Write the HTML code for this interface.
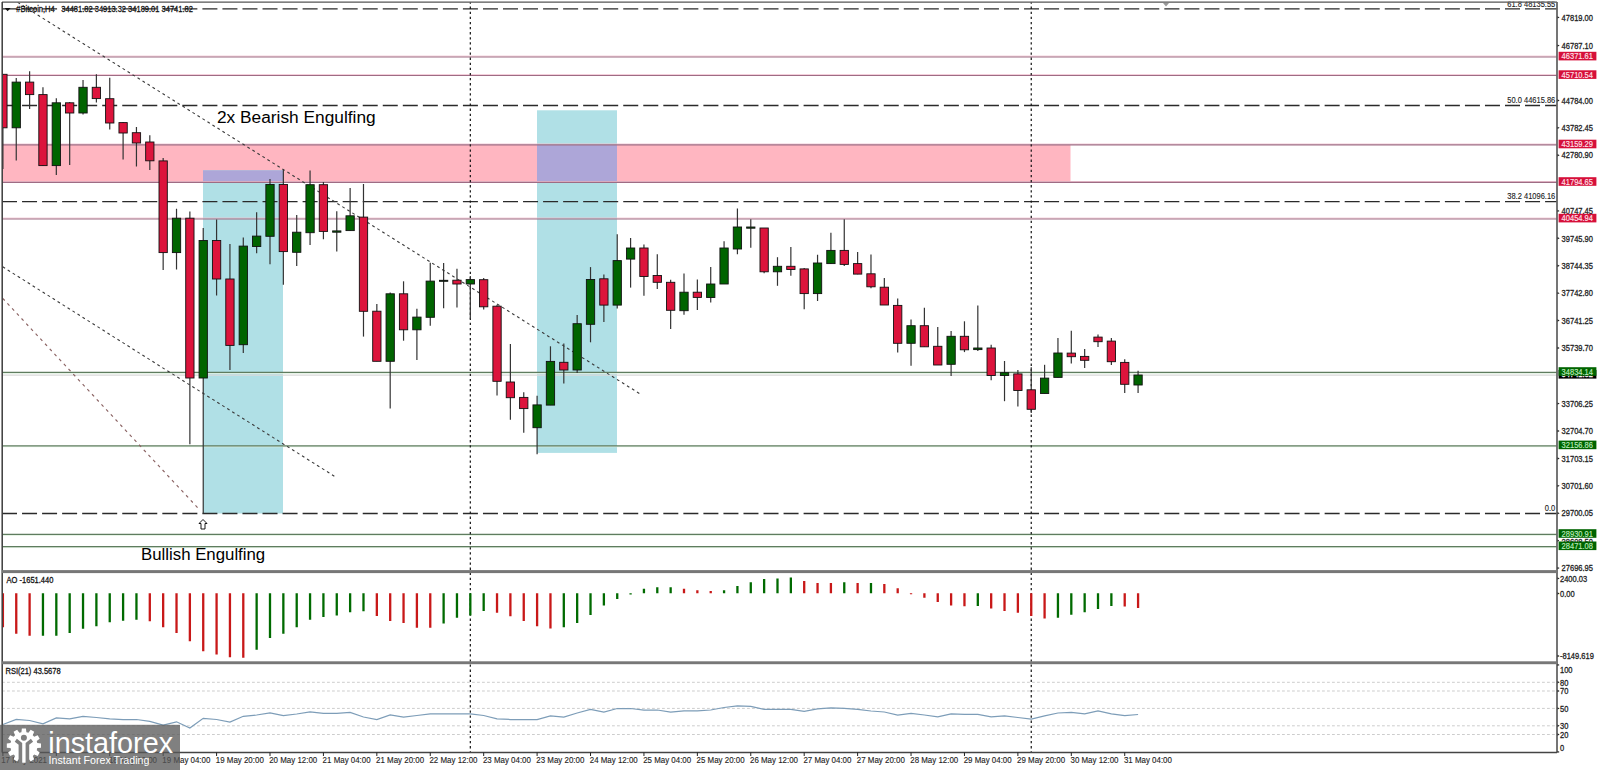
<!DOCTYPE html>
<html><head><meta charset="utf-8"><style>html,body{margin:0;padding:0;background:#fff;width:1599px;height:770px;overflow:hidden;position:relative}</style></head>
<body>
<svg width="1599" height="770" viewBox="0 0 1599 770" style="position:absolute;left:0;top:0;font-family:'Liberation Sans', sans-serif">
<rect x="0" y="0" width="1599" height="770" fill="#fff"/>
<defs><clipPath id="cc"><rect x="2.4" y="2.2" width="1554.6" height="750.3"/></clipPath></defs><g clip-path="url(#cc)">
<rect x="2" y="144.90" width="1068.5" height="37.50" fill="#FFB6C1"/>
<rect x="203" y="170.3" width="80" height="343.2" fill="#B0E0E6"/>
<rect x="203" y="170.30" width="80" height="12.10" fill="#ADA6D8"/>
<rect x="537" y="110.3" width="80" height="342.59999999999997" fill="#B0E0E6"/>
<rect x="537" y="144.90" width="80" height="37.50" fill="#ADA6D8"/>
<line x1="2" y1="56.10" x2="1557" y2="56.10" stroke="#F2C4D2" stroke-width="0.9"/>
<line x1="2" y1="57.00" x2="1557" y2="57.00" stroke="#9E6C84" stroke-width="1.2"/>
<line x1="2" y1="74.60" x2="1557" y2="74.60" stroke="#F2C4D2" stroke-width="0.9"/>
<line x1="2" y1="75.50" x2="1557" y2="75.50" stroke="#9E6C84" stroke-width="1.2"/>
<line x1="2" y1="144.00" x2="1557" y2="144.00" stroke="#F2C4D2" stroke-width="0.9"/>
<line x1="2" y1="144.90" x2="1557" y2="144.90" stroke="#9E6C84" stroke-width="1.2"/>
<line x1="2" y1="181.50" x2="1557" y2="181.50" stroke="#F2C4D2" stroke-width="0.9"/>
<line x1="2" y1="182.40" x2="1557" y2="182.40" stroke="#9E6C84" stroke-width="1.2"/>
<line x1="2" y1="218.10" x2="1557" y2="218.10" stroke="#F2C4D2" stroke-width="0.9"/>
<line x1="2" y1="219.00" x2="1557" y2="219.00" stroke="#9E6C84" stroke-width="1.2"/>
<line x1="2" y1="373.30" x2="1557" y2="373.30" stroke="#E2F2E2" stroke-width="1"/>
<line x1="2" y1="372.40" x2="1557" y2="372.40" stroke="#5F7C5F" stroke-width="1.25"/>
<line x1="2" y1="446.70" x2="1557" y2="446.70" stroke="#E2F2E2" stroke-width="1"/>
<line x1="2" y1="445.80" x2="1557" y2="445.80" stroke="#5F7C5F" stroke-width="1.25"/>
<line x1="2" y1="535.30" x2="1557" y2="535.30" stroke="#E2F2E2" stroke-width="1"/>
<line x1="2" y1="534.40" x2="1557" y2="534.40" stroke="#5F7C5F" stroke-width="1.25"/>
<line x1="2" y1="547.60" x2="1557" y2="547.60" stroke="#E2F2E2" stroke-width="1"/>
<line x1="2" y1="546.70" x2="1557" y2="546.70" stroke="#5F7C5F" stroke-width="1.25"/>
<line x1="2" y1="375.20" x2="1557" y2="375.20" stroke="#DADADA" stroke-width="1.3"/>
<line x1="2" y1="8.90" x2="1557" y2="8.90" stroke="#2a2a2a" stroke-width="1.3" stroke-dasharray="15 5.04"/>
<line x1="2" y1="105.50" x2="1557" y2="105.50" stroke="#2a2a2a" stroke-width="1.3" stroke-dasharray="15 5.04"/>
<line x1="2" y1="201.60" x2="1557" y2="201.60" stroke="#2a2a2a" stroke-width="1.3" stroke-dasharray="15 5.04"/>
<line x1="2" y1="513.50" x2="1557" y2="513.50" stroke="#2a2a2a" stroke-width="1.3" stroke-dasharray="15 5.04"/>
<line x1="470.32" y1="2" x2="470.32" y2="752.5" stroke="#111" stroke-width="1.2" stroke-dasharray="2.3 2.8" stroke-dashoffset="0.5"/>
<line x1="1031.24" y1="2" x2="1031.24" y2="752.5" stroke="#111" stroke-width="1.2" stroke-dasharray="2.3 2.8" stroke-dashoffset="0.5"/>
<line x1="17.7" y1="2.4" x2="640.8" y2="394.4" stroke="#3a3a3a" stroke-width="1.1" stroke-dasharray="2.8 3.1"/>
<line x1="2.7" y1="266.8" x2="335.3" y2="476.8" stroke="#3a3a3a" stroke-width="1.1" stroke-dasharray="2.8 3.1"/>
<line x1="2.7" y1="298.3" x2="200.1" y2="510.3" stroke="#8A6262" stroke-width="1.15" stroke-dasharray="3 3.9"/>
<line x1="2.90" y1="74.30" x2="2.90" y2="169.00" stroke="#333" stroke-width="1.2"/>
<rect x="-1.25" y="74.30" width="8.3" height="53.50" fill="#DC143C" stroke="#111" stroke-width="0.9"/>
<line x1="16.25" y1="77.90" x2="16.25" y2="160.50" stroke="#333" stroke-width="1.2"/>
<rect x="12.10" y="82.10" width="8.3" height="45.70" fill="#006400" stroke="#111" stroke-width="0.9"/>
<line x1="29.61" y1="71.20" x2="29.61" y2="109.00" stroke="#333" stroke-width="1.2"/>
<rect x="25.46" y="82.10" width="8.3" height="12.50" fill="#DC143C" stroke="#111" stroke-width="0.9"/>
<line x1="42.96" y1="87.30" x2="42.96" y2="166.00" stroke="#333" stroke-width="1.2"/>
<rect x="38.81" y="94.60" width="8.3" height="71.00" fill="#DC143C" stroke="#111" stroke-width="0.9"/>
<line x1="56.32" y1="98.20" x2="56.32" y2="175.00" stroke="#333" stroke-width="1.2"/>
<rect x="52.17" y="102.80" width="8.3" height="62.80" fill="#006400" stroke="#111" stroke-width="0.9"/>
<line x1="69.68" y1="102.00" x2="69.68" y2="165.10" stroke="#333" stroke-width="1.2"/>
<rect x="65.53" y="102.80" width="8.3" height="10.20" fill="#DC143C" stroke="#111" stroke-width="0.9"/>
<line x1="83.03" y1="80.00" x2="83.03" y2="114.50" stroke="#333" stroke-width="1.2"/>
<rect x="78.88" y="87.30" width="8.3" height="25.70" fill="#006400" stroke="#111" stroke-width="0.9"/>
<line x1="96.39" y1="74.30" x2="96.39" y2="102.40" stroke="#333" stroke-width="1.2"/>
<rect x="92.23" y="87.30" width="8.3" height="11.30" fill="#DC143C" stroke="#111" stroke-width="0.9"/>
<line x1="109.74" y1="77.70" x2="109.74" y2="129.60" stroke="#333" stroke-width="1.2"/>
<rect x="105.59" y="98.70" width="8.3" height="24.30" fill="#DC143C" stroke="#111" stroke-width="0.9"/>
<line x1="123.10" y1="122.00" x2="123.10" y2="159.50" stroke="#333" stroke-width="1.2"/>
<rect x="118.95" y="122.60" width="8.3" height="10.40" fill="#DC143C" stroke="#111" stroke-width="0.9"/>
<line x1="136.45" y1="127.00" x2="136.45" y2="166.50" stroke="#333" stroke-width="1.2"/>
<rect x="132.30" y="132.70" width="8.3" height="10.30" fill="#DC143C" stroke="#111" stroke-width="0.9"/>
<line x1="149.81" y1="135.30" x2="149.81" y2="170.00" stroke="#333" stroke-width="1.2"/>
<rect x="145.66" y="142.00" width="8.3" height="18.80" fill="#DC143C" stroke="#111" stroke-width="0.9"/>
<line x1="163.16" y1="158.00" x2="163.16" y2="270.10" stroke="#333" stroke-width="1.2"/>
<rect x="159.01" y="160.90" width="8.3" height="91.70" fill="#DC143C" stroke="#111" stroke-width="0.9"/>
<line x1="176.52" y1="208.80" x2="176.52" y2="269.50" stroke="#333" stroke-width="1.2"/>
<rect x="172.37" y="218.20" width="8.3" height="34.40" fill="#006400" stroke="#111" stroke-width="0.9"/>
<line x1="189.87" y1="211.40" x2="189.87" y2="444.20" stroke="#333" stroke-width="1.2"/>
<rect x="185.72" y="218.20" width="8.3" height="159.80" fill="#DC143C" stroke="#111" stroke-width="0.9"/>
<line x1="203.23" y1="227.90" x2="203.23" y2="513.50" stroke="#333" stroke-width="1.2"/>
<rect x="199.08" y="240.50" width="8.3" height="137.50" fill="#006400" stroke="#111" stroke-width="0.9"/>
<line x1="216.58" y1="219.50" x2="216.58" y2="295.50" stroke="#333" stroke-width="1.2"/>
<rect x="212.43" y="240.50" width="8.3" height="38.50" fill="#DC143C" stroke="#111" stroke-width="0.9"/>
<line x1="229.94" y1="243.90" x2="229.94" y2="370.00" stroke="#333" stroke-width="1.2"/>
<rect x="225.78" y="279.00" width="8.3" height="66.40" fill="#DC143C" stroke="#111" stroke-width="0.9"/>
<line x1="243.29" y1="237.40" x2="243.29" y2="353.00" stroke="#333" stroke-width="1.2"/>
<rect x="239.14" y="246.10" width="8.3" height="98.60" fill="#006400" stroke="#111" stroke-width="0.9"/>
<line x1="256.64" y1="212.30" x2="256.64" y2="253.20" stroke="#333" stroke-width="1.2"/>
<rect x="252.49" y="236.10" width="8.3" height="10.40" fill="#006400" stroke="#111" stroke-width="0.9"/>
<line x1="270.00" y1="179.00" x2="270.00" y2="264.30" stroke="#333" stroke-width="1.2"/>
<rect x="265.85" y="184.50" width="8.3" height="51.80" fill="#006400" stroke="#111" stroke-width="0.9"/>
<line x1="283.35" y1="169.50" x2="283.35" y2="284.70" stroke="#333" stroke-width="1.2"/>
<rect x="279.20" y="184.50" width="8.3" height="67.10" fill="#DC143C" stroke="#111" stroke-width="0.9"/>
<line x1="296.71" y1="215.00" x2="296.71" y2="266.00" stroke="#333" stroke-width="1.2"/>
<rect x="292.56" y="232.20" width="8.3" height="20.10" fill="#006400" stroke="#111" stroke-width="0.9"/>
<line x1="310.06" y1="170.40" x2="310.06" y2="245.00" stroke="#333" stroke-width="1.2"/>
<rect x="305.92" y="184.70" width="8.3" height="48.00" fill="#006400" stroke="#111" stroke-width="0.9"/>
<line x1="323.42" y1="182.00" x2="323.42" y2="239.20" stroke="#333" stroke-width="1.2"/>
<rect x="319.27" y="184.70" width="8.3" height="46.70" fill="#DC143C" stroke="#111" stroke-width="0.9"/>
<line x1="336.77" y1="211.20" x2="336.77" y2="251.40" stroke="#333" stroke-width="1.2"/>
<rect x="332.62" y="230.90" width="8.3" height="1.30" fill="#006400" stroke="#111" stroke-width="0.9"/>
<line x1="350.13" y1="188.00" x2="350.13" y2="230.60" stroke="#333" stroke-width="1.2"/>
<rect x="345.98" y="215.80" width="8.3" height="14.80" fill="#006400" stroke="#111" stroke-width="0.9"/>
<line x1="363.49" y1="184.00" x2="363.49" y2="336.60" stroke="#333" stroke-width="1.2"/>
<rect x="359.34" y="217.10" width="8.3" height="94.20" fill="#DC143C" stroke="#111" stroke-width="0.9"/>
<line x1="376.84" y1="304.00" x2="376.84" y2="361.30" stroke="#333" stroke-width="1.2"/>
<rect x="372.69" y="311.20" width="8.3" height="50.10" fill="#DC143C" stroke="#111" stroke-width="0.9"/>
<line x1="390.19" y1="292.50" x2="390.19" y2="408.60" stroke="#333" stroke-width="1.2"/>
<rect x="386.05" y="293.80" width="8.3" height="67.50" fill="#006400" stroke="#111" stroke-width="0.9"/>
<line x1="403.55" y1="281.30" x2="403.55" y2="340.70" stroke="#333" stroke-width="1.2"/>
<rect x="399.40" y="293.80" width="8.3" height="36.00" fill="#DC143C" stroke="#111" stroke-width="0.9"/>
<line x1="416.90" y1="308.70" x2="416.90" y2="360.00" stroke="#333" stroke-width="1.2"/>
<rect x="412.75" y="317.10" width="8.3" height="12.70" fill="#006400" stroke="#111" stroke-width="0.9"/>
<line x1="430.26" y1="262.80" x2="430.26" y2="325.80" stroke="#333" stroke-width="1.2"/>
<rect x="426.11" y="281.10" width="8.3" height="36.20" fill="#006400" stroke="#111" stroke-width="0.9"/>
<line x1="443.62" y1="263.00" x2="443.62" y2="308.30" stroke="#333" stroke-width="1.2"/>
<rect x="439.47" y="280.30" width="8.3" height="1.00" fill="#006400" stroke="#111" stroke-width="0.9"/>
<line x1="456.97" y1="268.80" x2="456.97" y2="307.60" stroke="#333" stroke-width="1.2"/>
<rect x="452.82" y="280.20" width="8.3" height="3.80" fill="#DC143C" stroke="#111" stroke-width="0.9"/>
<line x1="470.32" y1="276.00" x2="470.32" y2="318.70" stroke="#333" stroke-width="1.2"/>
<rect x="466.18" y="279.60" width="8.3" height="4.40" fill="#006400" stroke="#111" stroke-width="0.9"/>
<line x1="483.68" y1="278.00" x2="483.68" y2="309.40" stroke="#333" stroke-width="1.2"/>
<rect x="479.53" y="279.70" width="8.3" height="27.10" fill="#DC143C" stroke="#111" stroke-width="0.9"/>
<line x1="497.03" y1="304.70" x2="497.03" y2="395.60" stroke="#333" stroke-width="1.2"/>
<rect x="492.88" y="306.20" width="8.3" height="75.10" fill="#DC143C" stroke="#111" stroke-width="0.9"/>
<line x1="510.39" y1="344.00" x2="510.39" y2="419.80" stroke="#333" stroke-width="1.2"/>
<rect x="506.24" y="382.00" width="8.3" height="15.70" fill="#DC143C" stroke="#111" stroke-width="0.9"/>
<line x1="523.75" y1="392.20" x2="523.75" y2="432.80" stroke="#333" stroke-width="1.2"/>
<rect x="519.60" y="397.40" width="8.3" height="11.20" fill="#DC143C" stroke="#111" stroke-width="0.9"/>
<line x1="537.10" y1="395.70" x2="537.10" y2="454.30" stroke="#333" stroke-width="1.2"/>
<rect x="532.95" y="404.90" width="8.3" height="22.80" fill="#006400" stroke="#111" stroke-width="0.9"/>
<line x1="550.46" y1="346.30" x2="550.46" y2="405.10" stroke="#333" stroke-width="1.2"/>
<rect x="546.31" y="361.40" width="8.3" height="43.70" fill="#006400" stroke="#111" stroke-width="0.9"/>
<line x1="563.81" y1="343.40" x2="563.81" y2="383.40" stroke="#333" stroke-width="1.2"/>
<rect x="559.66" y="362.30" width="8.3" height="7.70" fill="#DC143C" stroke="#111" stroke-width="0.9"/>
<line x1="577.16" y1="315.10" x2="577.16" y2="372.90" stroke="#333" stroke-width="1.2"/>
<rect x="573.01" y="323.70" width="8.3" height="46.30" fill="#006400" stroke="#111" stroke-width="0.9"/>
<line x1="590.52" y1="267.10" x2="590.52" y2="342.30" stroke="#333" stroke-width="1.2"/>
<rect x="586.37" y="279.50" width="8.3" height="44.80" fill="#006400" stroke="#111" stroke-width="0.9"/>
<line x1="603.88" y1="274.50" x2="603.88" y2="322.00" stroke="#333" stroke-width="1.2"/>
<rect x="599.73" y="278.80" width="8.3" height="26.30" fill="#DC143C" stroke="#111" stroke-width="0.9"/>
<line x1="617.23" y1="234.20" x2="617.23" y2="308.60" stroke="#333" stroke-width="1.2"/>
<rect x="613.08" y="260.60" width="8.3" height="44.50" fill="#006400" stroke="#111" stroke-width="0.9"/>
<line x1="630.59" y1="238.00" x2="630.59" y2="287.60" stroke="#333" stroke-width="1.2"/>
<rect x="626.44" y="248.00" width="8.3" height="11.10" fill="#006400" stroke="#111" stroke-width="0.9"/>
<line x1="643.94" y1="244.40" x2="643.94" y2="295.70" stroke="#333" stroke-width="1.2"/>
<rect x="639.79" y="248.00" width="8.3" height="28.50" fill="#DC143C" stroke="#111" stroke-width="0.9"/>
<line x1="657.29" y1="254.20" x2="657.29" y2="289.10" stroke="#333" stroke-width="1.2"/>
<rect x="653.14" y="275.50" width="8.3" height="6.80" fill="#DC143C" stroke="#111" stroke-width="0.9"/>
<line x1="670.65" y1="279.80" x2="670.65" y2="329.10" stroke="#333" stroke-width="1.2"/>
<rect x="666.50" y="282.30" width="8.3" height="28.00" fill="#DC143C" stroke="#111" stroke-width="0.9"/>
<line x1="684.00" y1="273.60" x2="684.00" y2="314.70" stroke="#333" stroke-width="1.2"/>
<rect x="679.86" y="292.20" width="8.3" height="18.50" fill="#006400" stroke="#111" stroke-width="0.9"/>
<line x1="697.36" y1="279.50" x2="697.36" y2="309.90" stroke="#333" stroke-width="1.2"/>
<rect x="693.21" y="292.20" width="8.3" height="5.20" fill="#DC143C" stroke="#111" stroke-width="0.9"/>
<line x1="710.72" y1="266.90" x2="710.72" y2="302.60" stroke="#333" stroke-width="1.2"/>
<rect x="706.57" y="284.00" width="8.3" height="13.50" fill="#006400" stroke="#111" stroke-width="0.9"/>
<line x1="724.07" y1="241.20" x2="724.07" y2="284.00" stroke="#333" stroke-width="1.2"/>
<rect x="719.92" y="248.00" width="8.3" height="36.00" fill="#006400" stroke="#111" stroke-width="0.9"/>
<line x1="737.42" y1="208.50" x2="737.42" y2="254.30" stroke="#333" stroke-width="1.2"/>
<rect x="733.27" y="227.00" width="8.3" height="22.00" fill="#006400" stroke="#111" stroke-width="0.9"/>
<line x1="750.78" y1="219.20" x2="750.78" y2="247.80" stroke="#333" stroke-width="1.2"/>
<rect x="746.63" y="227.00" width="8.3" height="1.20" fill="#006400" stroke="#111" stroke-width="0.9"/>
<line x1="764.13" y1="228.00" x2="764.13" y2="273.30" stroke="#333" stroke-width="1.2"/>
<rect x="759.99" y="228.00" width="8.3" height="43.80" fill="#DC143C" stroke="#111" stroke-width="0.9"/>
<line x1="777.49" y1="257.20" x2="777.49" y2="285.80" stroke="#333" stroke-width="1.2"/>
<rect x="773.34" y="266.30" width="8.3" height="5.50" fill="#006400" stroke="#111" stroke-width="0.9"/>
<line x1="790.85" y1="247.00" x2="790.85" y2="275.70" stroke="#333" stroke-width="1.2"/>
<rect x="786.70" y="266.30" width="8.3" height="3.20" fill="#DC143C" stroke="#111" stroke-width="0.9"/>
<line x1="804.20" y1="268.00" x2="804.20" y2="309.20" stroke="#333" stroke-width="1.2"/>
<rect x="800.05" y="268.90" width="8.3" height="24.70" fill="#DC143C" stroke="#111" stroke-width="0.9"/>
<line x1="817.55" y1="254.70" x2="817.55" y2="301.00" stroke="#333" stroke-width="1.2"/>
<rect x="813.40" y="263.00" width="8.3" height="30.60" fill="#006400" stroke="#111" stroke-width="0.9"/>
<line x1="830.91" y1="232.80" x2="830.91" y2="264.00" stroke="#333" stroke-width="1.2"/>
<rect x="826.76" y="250.40" width="8.3" height="13.20" fill="#006400" stroke="#111" stroke-width="0.9"/>
<line x1="844.26" y1="219.20" x2="844.26" y2="266.00" stroke="#333" stroke-width="1.2"/>
<rect x="840.12" y="250.40" width="8.3" height="14.00" fill="#DC143C" stroke="#111" stroke-width="0.9"/>
<line x1="857.62" y1="252.00" x2="857.62" y2="274.30" stroke="#333" stroke-width="1.2"/>
<rect x="853.47" y="263.60" width="8.3" height="10.50" fill="#DC143C" stroke="#111" stroke-width="0.9"/>
<line x1="870.98" y1="254.40" x2="870.98" y2="288.30" stroke="#333" stroke-width="1.2"/>
<rect x="866.83" y="273.80" width="8.3" height="13.00" fill="#DC143C" stroke="#111" stroke-width="0.9"/>
<line x1="884.33" y1="277.90" x2="884.33" y2="305.00" stroke="#333" stroke-width="1.2"/>
<rect x="880.18" y="287.20" width="8.3" height="17.80" fill="#DC143C" stroke="#111" stroke-width="0.9"/>
<line x1="897.69" y1="298.40" x2="897.69" y2="352.60" stroke="#333" stroke-width="1.2"/>
<rect x="893.54" y="305.40" width="8.3" height="37.90" fill="#DC143C" stroke="#111" stroke-width="0.9"/>
<line x1="911.04" y1="319.40" x2="911.04" y2="365.70" stroke="#333" stroke-width="1.2"/>
<rect x="906.89" y="325.70" width="8.3" height="17.60" fill="#006400" stroke="#111" stroke-width="0.9"/>
<line x1="924.39" y1="307.80" x2="924.39" y2="346.80" stroke="#333" stroke-width="1.2"/>
<rect x="920.25" y="325.70" width="8.3" height="21.10" fill="#DC143C" stroke="#111" stroke-width="0.9"/>
<line x1="937.75" y1="326.90" x2="937.75" y2="365.00" stroke="#333" stroke-width="1.2"/>
<rect x="933.60" y="346.30" width="8.3" height="18.70" fill="#DC143C" stroke="#111" stroke-width="0.9"/>
<line x1="951.11" y1="331.10" x2="951.11" y2="376.00" stroke="#333" stroke-width="1.2"/>
<rect x="946.96" y="336.30" width="8.3" height="28.00" fill="#006400" stroke="#111" stroke-width="0.9"/>
<line x1="964.46" y1="321.30" x2="964.46" y2="352.10" stroke="#333" stroke-width="1.2"/>
<rect x="960.31" y="336.30" width="8.3" height="13.50" fill="#DC143C" stroke="#111" stroke-width="0.9"/>
<line x1="977.82" y1="305.40" x2="977.82" y2="351.00" stroke="#333" stroke-width="1.2"/>
<rect x="973.67" y="348.00" width="8.3" height="1.60" fill="#006400" stroke="#111" stroke-width="0.9"/>
<line x1="991.17" y1="344.70" x2="991.17" y2="380.20" stroke="#333" stroke-width="1.2"/>
<rect x="987.02" y="348.00" width="8.3" height="27.50" fill="#DC143C" stroke="#111" stroke-width="0.9"/>
<line x1="1004.52" y1="361.00" x2="1004.52" y2="401.20" stroke="#333" stroke-width="1.2"/>
<rect x="1000.38" y="372.70" width="8.3" height="2.80" fill="#006400" stroke="#111" stroke-width="0.9"/>
<line x1="1017.88" y1="370.00" x2="1017.88" y2="406.40" stroke="#333" stroke-width="1.2"/>
<rect x="1013.73" y="373.90" width="8.3" height="16.60" fill="#DC143C" stroke="#111" stroke-width="0.9"/>
<line x1="1031.24" y1="367.30" x2="1031.24" y2="412.90" stroke="#333" stroke-width="1.2"/>
<rect x="1027.09" y="389.80" width="8.3" height="19.50" fill="#DC143C" stroke="#111" stroke-width="0.9"/>
<line x1="1044.59" y1="364.80" x2="1044.59" y2="393.50" stroke="#333" stroke-width="1.2"/>
<rect x="1040.44" y="378.10" width="8.3" height="15.40" fill="#006400" stroke="#111" stroke-width="0.9"/>
<line x1="1057.95" y1="338.10" x2="1057.95" y2="377.40" stroke="#333" stroke-width="1.2"/>
<rect x="1053.80" y="353.00" width="8.3" height="24.40" fill="#006400" stroke="#111" stroke-width="0.9"/>
<line x1="1071.30" y1="330.70" x2="1071.30" y2="363.60" stroke="#333" stroke-width="1.2"/>
<rect x="1067.15" y="353.10" width="8.3" height="3.60" fill="#DC143C" stroke="#111" stroke-width="0.9"/>
<line x1="1084.66" y1="348.90" x2="1084.66" y2="367.90" stroke="#333" stroke-width="1.2"/>
<rect x="1080.51" y="356.40" width="8.3" height="3.90" fill="#DC143C" stroke="#111" stroke-width="0.9"/>
<line x1="1098.01" y1="334.60" x2="1098.01" y2="346.90" stroke="#333" stroke-width="1.2"/>
<rect x="1093.86" y="337.10" width="8.3" height="4.60" fill="#DC143C" stroke="#111" stroke-width="0.9"/>
<line x1="1111.37" y1="338.10" x2="1111.37" y2="365.00" stroke="#333" stroke-width="1.2"/>
<rect x="1107.22" y="341.10" width="8.3" height="20.60" fill="#DC143C" stroke="#111" stroke-width="0.9"/>
<line x1="1124.72" y1="359.30" x2="1124.72" y2="392.90" stroke="#333" stroke-width="1.2"/>
<rect x="1120.57" y="362.40" width="8.3" height="21.90" fill="#DC143C" stroke="#111" stroke-width="0.9"/>
<line x1="1138.08" y1="370.70" x2="1138.08" y2="392.90" stroke="#333" stroke-width="1.2"/>
<rect x="1133.92" y="375.00" width="8.3" height="10.00" fill="#006400" stroke="#111" stroke-width="0.9"/>
<line x1="2.90" y1="593.3" x2="2.90" y2="627.2" stroke="#C81818" stroke-width="2.3"/>
<line x1="16.25" y1="593.3" x2="16.25" y2="633.8" stroke="#C81818" stroke-width="2.3"/>
<line x1="29.61" y1="593.3" x2="29.61" y2="635.7" stroke="#C81818" stroke-width="2.3"/>
<line x1="42.96" y1="593.3" x2="42.96" y2="635.7" stroke="#006A00" stroke-width="2.3"/>
<line x1="56.32" y1="593.3" x2="56.32" y2="635.7" stroke="#006A00" stroke-width="2.3"/>
<line x1="69.68" y1="593.3" x2="69.68" y2="632.9" stroke="#006A00" stroke-width="2.3"/>
<line x1="83.03" y1="593.3" x2="83.03" y2="628.7" stroke="#006A00" stroke-width="2.3"/>
<line x1="96.39" y1="593.3" x2="96.39" y2="626.3" stroke="#006A00" stroke-width="2.3"/>
<line x1="109.74" y1="593.3" x2="109.74" y2="622.2" stroke="#006A00" stroke-width="2.3"/>
<line x1="123.10" y1="593.3" x2="123.10" y2="620.7" stroke="#006A00" stroke-width="2.3"/>
<line x1="136.45" y1="593.3" x2="136.45" y2="619.7" stroke="#006A00" stroke-width="2.3"/>
<line x1="149.81" y1="593.3" x2="149.81" y2="621.2" stroke="#C81818" stroke-width="2.3"/>
<line x1="163.16" y1="593.3" x2="163.16" y2="627.2" stroke="#C81818" stroke-width="2.3"/>
<line x1="176.52" y1="593.3" x2="176.52" y2="632.9" stroke="#C81818" stroke-width="2.3"/>
<line x1="189.87" y1="593.3" x2="189.87" y2="641.3" stroke="#C81818" stroke-width="2.3"/>
<line x1="203.23" y1="593.3" x2="203.23" y2="651.2" stroke="#C81818" stroke-width="2.3"/>
<line x1="216.58" y1="593.3" x2="216.58" y2="654.4" stroke="#C81818" stroke-width="2.3"/>
<line x1="229.94" y1="593.3" x2="229.94" y2="657.2" stroke="#C81818" stroke-width="2.3"/>
<line x1="243.29" y1="593.3" x2="243.29" y2="657.8" stroke="#C81818" stroke-width="2.3"/>
<line x1="256.64" y1="593.3" x2="256.64" y2="649.7" stroke="#006A00" stroke-width="2.3"/>
<line x1="270.00" y1="593.3" x2="270.00" y2="637.9" stroke="#006A00" stroke-width="2.3"/>
<line x1="283.35" y1="593.3" x2="283.35" y2="633.8" stroke="#006A00" stroke-width="2.3"/>
<line x1="296.71" y1="593.3" x2="296.71" y2="627.2" stroke="#006A00" stroke-width="2.3"/>
<line x1="310.06" y1="593.3" x2="310.06" y2="619.7" stroke="#006A00" stroke-width="2.3"/>
<line x1="323.42" y1="593.3" x2="323.42" y2="616.9" stroke="#006A00" stroke-width="2.3"/>
<line x1="336.77" y1="593.3" x2="336.77" y2="615.4" stroke="#006A00" stroke-width="2.3"/>
<line x1="350.13" y1="593.3" x2="350.13" y2="612.2" stroke="#006A00" stroke-width="2.3"/>
<line x1="363.49" y1="593.3" x2="363.49" y2="611.3" stroke="#006A00" stroke-width="2.3"/>
<line x1="376.84" y1="593.3" x2="376.84" y2="616" stroke="#C81818" stroke-width="2.3"/>
<line x1="390.19" y1="593.3" x2="390.19" y2="621" stroke="#C81818" stroke-width="2.3"/>
<line x1="403.55" y1="593.3" x2="403.55" y2="622.9" stroke="#C81818" stroke-width="2.3"/>
<line x1="416.90" y1="593.3" x2="416.90" y2="627.8" stroke="#C81818" stroke-width="2.3"/>
<line x1="430.26" y1="593.3" x2="430.26" y2="627.8" stroke="#C81818" stroke-width="2.3"/>
<line x1="443.62" y1="593.3" x2="443.62" y2="623.5" stroke="#006A00" stroke-width="2.3"/>
<line x1="456.97" y1="593.3" x2="456.97" y2="617.8" stroke="#006A00" stroke-width="2.3"/>
<line x1="470.32" y1="593.3" x2="470.32" y2="615.4" stroke="#006A00" stroke-width="2.3"/>
<line x1="483.68" y1="593.3" x2="483.68" y2="610.9" stroke="#006A00" stroke-width="2.3"/>
<line x1="497.03" y1="593.3" x2="497.03" y2="612.8" stroke="#C81818" stroke-width="2.3"/>
<line x1="510.39" y1="593.3" x2="510.39" y2="616.3" stroke="#C81818" stroke-width="2.3"/>
<line x1="523.75" y1="593.3" x2="523.75" y2="621" stroke="#C81818" stroke-width="2.3"/>
<line x1="537.10" y1="593.3" x2="537.10" y2="626.3" stroke="#C81818" stroke-width="2.3"/>
<line x1="550.46" y1="593.3" x2="550.46" y2="628.5" stroke="#C81818" stroke-width="2.3"/>
<line x1="563.81" y1="593.3" x2="563.81" y2="627.2" stroke="#006A00" stroke-width="2.3"/>
<line x1="577.16" y1="593.3" x2="577.16" y2="622.9" stroke="#006A00" stroke-width="2.3"/>
<line x1="590.52" y1="593.3" x2="590.52" y2="615" stroke="#006A00" stroke-width="2.3"/>
<line x1="603.88" y1="593.3" x2="603.88" y2="605.6" stroke="#006A00" stroke-width="2.3"/>
<line x1="617.23" y1="593.3" x2="617.23" y2="599.1" stroke="#006A00" stroke-width="2.3"/>
<line x1="630.59" y1="593.3" x2="630.59" y2="594.5" stroke="#006A00" stroke-width="2.3"/>
<line x1="643.94" y1="593.3" x2="643.94" y2="588.8" stroke="#006A00" stroke-width="2.3"/>
<line x1="657.29" y1="593.3" x2="657.29" y2="587.3" stroke="#006A00" stroke-width="2.3"/>
<line x1="670.65" y1="593.3" x2="670.65" y2="587.3" stroke="#006A00" stroke-width="2.3"/>
<line x1="684.00" y1="593.3" x2="684.00" y2="588.8" stroke="#C81818" stroke-width="2.3"/>
<line x1="697.36" y1="593.3" x2="697.36" y2="590.3" stroke="#C81818" stroke-width="2.3"/>
<line x1="710.72" y1="593.3" x2="710.72" y2="591" stroke="#C81818" stroke-width="2.3"/>
<line x1="724.07" y1="593.3" x2="724.07" y2="590.3" stroke="#006A00" stroke-width="2.3"/>
<line x1="737.42" y1="593.3" x2="737.42" y2="586" stroke="#006A00" stroke-width="2.3"/>
<line x1="750.78" y1="593.3" x2="750.78" y2="582.2" stroke="#006A00" stroke-width="2.3"/>
<line x1="764.13" y1="593.3" x2="764.13" y2="579" stroke="#006A00" stroke-width="2.3"/>
<line x1="777.49" y1="593.3" x2="777.49" y2="578.4" stroke="#006A00" stroke-width="2.3"/>
<line x1="790.85" y1="593.3" x2="790.85" y2="577.5" stroke="#006A00" stroke-width="2.3"/>
<line x1="804.20" y1="593.3" x2="804.20" y2="580.9" stroke="#C81818" stroke-width="2.3"/>
<line x1="817.55" y1="593.3" x2="817.55" y2="583.1" stroke="#C81818" stroke-width="2.3"/>
<line x1="830.91" y1="593.3" x2="830.91" y2="583.1" stroke="#C81818" stroke-width="2.3"/>
<line x1="844.26" y1="593.3" x2="844.26" y2="582.2" stroke="#006A00" stroke-width="2.3"/>
<line x1="857.62" y1="593.3" x2="857.62" y2="583.1" stroke="#C81818" stroke-width="2.3"/>
<line x1="870.98" y1="593.3" x2="870.98" y2="583.1" stroke="#006A00" stroke-width="2.3"/>
<line x1="884.33" y1="593.3" x2="884.33" y2="584" stroke="#C81818" stroke-width="2.3"/>
<line x1="897.69" y1="593.3" x2="897.69" y2="588.2" stroke="#C81818" stroke-width="2.3"/>
<line x1="911.04" y1="593.3" x2="911.04" y2="594.3" stroke="#C81818" stroke-width="2.3"/>
<line x1="924.39" y1="593.3" x2="924.39" y2="597.8" stroke="#C81818" stroke-width="2.3"/>
<line x1="937.75" y1="593.3" x2="937.75" y2="601.9" stroke="#C81818" stroke-width="2.3"/>
<line x1="951.11" y1="593.3" x2="951.11" y2="605.6" stroke="#C81818" stroke-width="2.3"/>
<line x1="964.46" y1="593.3" x2="964.46" y2="606.2" stroke="#C81818" stroke-width="2.3"/>
<line x1="977.82" y1="593.3" x2="977.82" y2="606" stroke="#006A00" stroke-width="2.3"/>
<line x1="991.17" y1="593.3" x2="991.17" y2="608.5" stroke="#C81818" stroke-width="2.3"/>
<line x1="1004.52" y1="593.3" x2="1004.52" y2="610.9" stroke="#C81818" stroke-width="2.3"/>
<line x1="1017.88" y1="593.3" x2="1017.88" y2="612.8" stroke="#C81818" stroke-width="2.3"/>
<line x1="1031.24" y1="593.3" x2="1031.24" y2="616" stroke="#C81818" stroke-width="2.3"/>
<line x1="1044.59" y1="593.3" x2="1044.59" y2="618.4" stroke="#C81818" stroke-width="2.3"/>
<line x1="1057.95" y1="593.3" x2="1057.95" y2="617.8" stroke="#006A00" stroke-width="2.3"/>
<line x1="1071.30" y1="593.3" x2="1071.30" y2="614.7" stroke="#006A00" stroke-width="2.3"/>
<line x1="1084.66" y1="593.3" x2="1084.66" y2="612.2" stroke="#006A00" stroke-width="2.3"/>
<line x1="1098.01" y1="593.3" x2="1098.01" y2="609" stroke="#006A00" stroke-width="2.3"/>
<line x1="1111.37" y1="593.3" x2="1111.37" y2="606" stroke="#006A00" stroke-width="2.3"/>
<line x1="1124.72" y1="593.3" x2="1124.72" y2="606.6" stroke="#C81818" stroke-width="2.3"/>
<line x1="1138.08" y1="593.3" x2="1138.08" y2="607.9" stroke="#C81818" stroke-width="2.3"/>
<line x1="2" y1="682.30" x2="1557" y2="682.30" stroke="#CDCDCD" stroke-width="1" stroke-dasharray="2.8 2.2"/>
<line x1="2" y1="691.00" x2="1557" y2="691.00" stroke="#CDCDCD" stroke-width="1" stroke-dasharray="2.8 2.2"/>
<line x1="2" y1="708.40" x2="1557" y2="708.40" stroke="#CDCDCD" stroke-width="1" stroke-dasharray="2.8 2.2"/>
<line x1="2" y1="725.80" x2="1557" y2="725.80" stroke="#CDCDCD" stroke-width="1" stroke-dasharray="2.8 2.2"/>
<line x1="2" y1="734.50" x2="1557" y2="734.50" stroke="#CDCDCD" stroke-width="1" stroke-dasharray="2.8 2.2"/>
<polyline points="2.90,724.5 16.25,719.3 29.61,720.5 42.96,723.8 56.32,718 69.68,718.8 83.03,716.5 96.39,717.5 109.74,718.8 123.10,719.5 136.45,719.5 149.81,721.3 163.16,725 176.52,721.8 189.87,728 203.23,718.3 216.58,719.5 229.94,722 243.29,716.3 256.64,715 270.00,712.8 283.35,715.5 296.71,714 310.06,711.8 323.42,713.3 336.77,713.3 350.13,712.5 363.49,717 376.84,719.5 390.19,715 403.55,717 416.90,715.5 430.26,713.8 443.62,713.8 456.97,713.8 470.32,713.8 483.68,715.5 497.03,718.8 510.39,719.5 523.75,719.5 537.10,719.5 550.46,716 563.81,717 577.16,713 590.52,709.5 603.88,712 617.23,708.5 630.59,708.5 643.94,710 657.29,710 670.65,712 684.00,710.8 697.36,710.8 710.72,710 724.07,707.5 737.42,706 750.78,706.3 764.13,709.3 777.49,709.3 790.85,709.3 804.20,711.3 817.55,708.8 830.91,707.8 844.26,708.3 857.62,709.3 870.98,711 884.33,712 897.69,715 911.04,713.5 924.39,715 937.75,716.8 951.11,713.8 964.46,714.3 977.82,714.3 991.17,716.8 1004.52,716 1017.88,717.5 1031.24,719 1044.59,715.8 1057.95,713 1071.30,712.5 1084.66,713.8 1098.01,711 1111.37,713.8 1124.72,715.5 1138.08,714.5" fill="none" stroke="#7D9DB8" stroke-width="1.25"/>
</g>
<text x="1507.27" y="6.50" font-size="8.3" fill="#222" stroke="#222" stroke-width="0.12" textLength="48.03" lengthAdjust="spacingAndGlyphs">61.8 48135.55</text>
<text x="1507.27" y="103.10" font-size="8.3" fill="#222" stroke="#222" stroke-width="0.12" textLength="48.03" lengthAdjust="spacingAndGlyphs">50.0 44615.86</text>
<text x="1507.27" y="199.20" font-size="8.3" fill="#222" stroke="#222" stroke-width="0.12" textLength="48.03" lengthAdjust="spacingAndGlyphs">38.2 41096.16</text>
<text x="1544.86" y="511.10" font-size="8.3" fill="#222" stroke="#222" stroke-width="0.12" textLength="10.44" lengthAdjust="spacingAndGlyphs">0.0</text>
<rect x="0" y="0" width="1557" height="1.6" fill="#fff"/>
<line x1="2" y1="2.2" x2="1557" y2="2.2" stroke="#555" stroke-width="1.3"/>
<line x1="2.2" y1="2" x2="2.2" y2="752.5" stroke="#3c3c3c" stroke-width="1.5"/>
<line x1="1557" y1="2" x2="1557" y2="752.5" stroke="#666" stroke-width="1.8"/>
<line x1="2" y1="752.5" x2="1557" y2="752.5" stroke="#444" stroke-width="1.4"/>
<rect x="2" y="570.1" width="1555" height="3.0" fill="#777"/>
<rect x="2" y="661.3" width="1555" height="2.9" fill="#777"/>
<path d="M1557.5 16.18 L1559.6 17.38 L1557.5 18.58 Z" fill="#222"/>
<text x="1561.60" y="20.58" font-size="8.3" fill="#222" stroke="#222" stroke-width="0.28" textLength="31.33" lengthAdjust="spacingAndGlyphs">47819.00</text>
<path d="M1557.5 44.42 L1559.6 45.62 L1557.5 46.82 Z" fill="#222"/>
<text x="1561.60" y="48.82" font-size="8.3" fill="#222" stroke="#222" stroke-width="0.28" textLength="31.33" lengthAdjust="spacingAndGlyphs">46787.10</text>
<path d="M1557.5 99.24 L1559.6 100.44 L1557.5 101.64 Z" fill="#222"/>
<text x="1561.60" y="103.64" font-size="8.3" fill="#222" stroke="#222" stroke-width="0.28" textLength="31.33" lengthAdjust="spacingAndGlyphs">44784.00</text>
<path d="M1557.5 126.65 L1559.6 127.85 L1557.5 129.05 Z" fill="#222"/>
<text x="1561.60" y="131.05" font-size="8.3" fill="#222" stroke="#222" stroke-width="0.28" textLength="31.33" lengthAdjust="spacingAndGlyphs">43782.45</text>
<path d="M1557.5 154.06 L1559.6 155.26 L1557.5 156.46 Z" fill="#222"/>
<text x="1561.60" y="158.46" font-size="8.3" fill="#222" stroke="#222" stroke-width="0.28" textLength="31.33" lengthAdjust="spacingAndGlyphs">42780.90</text>
<path d="M1557.5 209.71 L1559.6 210.91 L1557.5 212.11 Z" fill="#222"/>
<text x="1561.60" y="214.11" font-size="8.3" fill="#222" stroke="#222" stroke-width="0.28" textLength="31.33" lengthAdjust="spacingAndGlyphs">40747.45</text>
<path d="M1557.5 237.12 L1559.6 238.32 L1557.5 239.52 Z" fill="#222"/>
<text x="1561.60" y="241.52" font-size="8.3" fill="#222" stroke="#222" stroke-width="0.28" textLength="31.33" lengthAdjust="spacingAndGlyphs">39745.90</text>
<path d="M1557.5 264.53 L1559.6 265.73 L1557.5 266.93 Z" fill="#222"/>
<text x="1561.60" y="268.93" font-size="8.3" fill="#222" stroke="#222" stroke-width="0.28" textLength="31.33" lengthAdjust="spacingAndGlyphs">38744.35</text>
<path d="M1557.5 291.94 L1559.6 293.14 L1557.5 294.34 Z" fill="#222"/>
<text x="1561.60" y="296.34" font-size="8.3" fill="#222" stroke="#222" stroke-width="0.28" textLength="31.33" lengthAdjust="spacingAndGlyphs">37742.80</text>
<path d="M1557.5 319.35 L1559.6 320.55 L1557.5 321.75 Z" fill="#222"/>
<text x="1561.60" y="323.75" font-size="8.3" fill="#222" stroke="#222" stroke-width="0.28" textLength="31.33" lengthAdjust="spacingAndGlyphs">36741.25</text>
<path d="M1557.5 346.76 L1559.6 347.96 L1557.5 349.16 Z" fill="#222"/>
<text x="1561.60" y="351.16" font-size="8.3" fill="#222" stroke="#222" stroke-width="0.28" textLength="31.33" lengthAdjust="spacingAndGlyphs">35739.70</text>
<path d="M1557.5 402.41 L1559.6 403.61 L1557.5 404.81 Z" fill="#222"/>
<text x="1561.60" y="406.81" font-size="8.3" fill="#222" stroke="#222" stroke-width="0.28" textLength="31.33" lengthAdjust="spacingAndGlyphs">33706.25</text>
<path d="M1557.5 429.83 L1559.6 431.03 L1557.5 432.23 Z" fill="#222"/>
<text x="1561.60" y="434.23" font-size="8.3" fill="#222" stroke="#222" stroke-width="0.28" textLength="31.33" lengthAdjust="spacingAndGlyphs">32704.70</text>
<path d="M1557.5 457.24 L1559.6 458.44 L1557.5 459.64 Z" fill="#222"/>
<text x="1561.60" y="461.64" font-size="8.3" fill="#222" stroke="#222" stroke-width="0.28" textLength="31.33" lengthAdjust="spacingAndGlyphs">31703.15</text>
<path d="M1557.5 484.65 L1559.6 485.85 L1557.5 487.05 Z" fill="#222"/>
<text x="1561.60" y="489.05" font-size="8.3" fill="#222" stroke="#222" stroke-width="0.28" textLength="31.33" lengthAdjust="spacingAndGlyphs">30701.60</text>
<path d="M1557.5 512.06 L1559.6 513.26 L1557.5 514.46 Z" fill="#222"/>
<text x="1561.60" y="516.46" font-size="8.3" fill="#222" stroke="#222" stroke-width="0.28" textLength="31.33" lengthAdjust="spacingAndGlyphs">29700.05</text>
<path d="M1557.5 566.88 L1559.6 568.08 L1557.5 569.28 Z" fill="#222"/>
<text x="1561.60" y="571.28" font-size="8.3" fill="#222" stroke="#222" stroke-width="0.28" textLength="31.33" lengthAdjust="spacingAndGlyphs">27696.95</text>
<path d="M1557.5 539.47 L1559.6 540.67 L1557.5 541.87 Z" fill="#222"/>
<rect x="1559" y="537.17" width="37" height="7" fill="#fff"/>
<text x="1561.60" y="544.87" font-size="8.3" fill="#222" stroke="#222" stroke-width="0.28" textLength="31.33" lengthAdjust="spacingAndGlyphs">28698.50</text>
<rect x="1558.6" y="51.80" width="37.8" height="8.6" fill="#D6103A"/>
<text x="1561.60" y="59.10" font-size="8.3" fill="#FFE4EC" stroke="#FFE4EC" stroke-width="0.15" textLength="31.33" lengthAdjust="spacingAndGlyphs">46371.61</text>
<rect x="1558.6" y="70.30" width="37.8" height="8.6" fill="#D6103A"/>
<text x="1561.60" y="77.60" font-size="8.3" fill="#FFE4EC" stroke="#FFE4EC" stroke-width="0.15" textLength="31.33" lengthAdjust="spacingAndGlyphs">45710.54</text>
<rect x="1558.6" y="139.70" width="37.8" height="8.6" fill="#D6103A"/>
<text x="1561.60" y="147.00" font-size="8.3" fill="#FFE4EC" stroke="#FFE4EC" stroke-width="0.15" textLength="31.33" lengthAdjust="spacingAndGlyphs">43159.29</text>
<rect x="1558.6" y="177.20" width="37.8" height="8.6" fill="#D6103A"/>
<text x="1561.60" y="184.50" font-size="8.3" fill="#FFE4EC" stroke="#FFE4EC" stroke-width="0.15" textLength="31.33" lengthAdjust="spacingAndGlyphs">41794.65</text>
<rect x="1558.6" y="213.80" width="37.8" height="8.6" fill="#D6103A"/>
<text x="1561.60" y="221.10" font-size="8.3" fill="#FFE4EC" stroke="#FFE4EC" stroke-width="0.15" textLength="31.33" lengthAdjust="spacingAndGlyphs">40454.94</text>
<rect x="1558.6" y="370.00" width="37.8" height="8.6" fill="#000"/>
<text x="1561.60" y="377.30" font-size="8.3" fill="#fff" stroke="#fff" stroke-width="0.28" textLength="31.33" lengthAdjust="spacingAndGlyphs">34741.82</text>
<rect x="1558.6" y="367.20" width="37.8" height="8.6" fill="#006400"/>
<text x="1561.60" y="374.50" font-size="8.3" fill="#BDEBBD" stroke="#BDEBBD" stroke-width="0.15" textLength="31.33" lengthAdjust="spacingAndGlyphs">34834.14</text>
<rect x="1558.6" y="440.60" width="37.8" height="8.6" fill="#006400"/>
<text x="1561.60" y="447.90" font-size="8.3" fill="#BDEBBD" stroke="#BDEBBD" stroke-width="0.15" textLength="31.33" lengthAdjust="spacingAndGlyphs">32156.86</text>
<rect x="1558.6" y="529.20" width="37.8" height="8.6" fill="#006400"/>
<text x="1561.60" y="536.50" font-size="8.3" fill="#BDEBBD" stroke="#BDEBBD" stroke-width="0.15" textLength="31.33" lengthAdjust="spacingAndGlyphs">28930.91</text>
<rect x="1558.6" y="541.50" width="37.8" height="8.6" fill="#006400"/>
<text x="1561.60" y="548.80" font-size="8.3" fill="#BDEBBD" stroke="#BDEBBD" stroke-width="0.15" textLength="31.33" lengthAdjust="spacingAndGlyphs">28471.08</text>
<path d="M1557.5 577.20 L1559.6 578.40 L1557.5 579.60 Z" fill="#222"/>
<text x="1560.00" y="581.80" font-size="8.3" fill="#222" stroke="#222" stroke-width="0.28" textLength="27.15" lengthAdjust="spacingAndGlyphs">2400.03</text>
<path d="M1557.5 592.30 L1559.6 593.50 L1557.5 594.70 Z" fill="#222"/>
<text x="1560.00" y="596.90" font-size="8.3" fill="#222" stroke="#222" stroke-width="0.28" textLength="14.62" lengthAdjust="spacingAndGlyphs">0.00</text>
<path d="M1557.5 654.80 L1559.6 656.00 L1557.5 657.20 Z" fill="#222"/>
<text x="1560.00" y="659.40" font-size="8.3" fill="#222" stroke="#222" stroke-width="0.28" textLength="33.83" lengthAdjust="spacingAndGlyphs">-8149.619</text>
<path d="M1557.5 663.70 L1559.6 664.90 L1557.5 666.10 Z" fill="#222"/>
<text x="1560.00" y="672.70" font-size="8.3" fill="#222" stroke="#222" stroke-width="0.28" textLength="12.53" lengthAdjust="spacingAndGlyphs">100</text>
<path d="M1557.5 681.10 L1559.6 682.30 L1557.5 683.50 Z" fill="#222"/>
<text x="1560.00" y="685.70" font-size="8.3" fill="#222" stroke="#222" stroke-width="0.28" textLength="8.35" lengthAdjust="spacingAndGlyphs">80</text>
<path d="M1557.5 689.80 L1559.6 691.00 L1557.5 692.20 Z" fill="#222"/>
<text x="1560.00" y="694.40" font-size="8.3" fill="#222" stroke="#222" stroke-width="0.28" textLength="8.35" lengthAdjust="spacingAndGlyphs">70</text>
<path d="M1557.5 707.20 L1559.6 708.40 L1557.5 709.60 Z" fill="#222"/>
<text x="1560.00" y="711.80" font-size="8.3" fill="#222" stroke="#222" stroke-width="0.28" textLength="8.35" lengthAdjust="spacingAndGlyphs">50</text>
<path d="M1557.5 724.60 L1559.6 725.80 L1557.5 727.00 Z" fill="#222"/>
<text x="1560.00" y="729.20" font-size="8.3" fill="#222" stroke="#222" stroke-width="0.28" textLength="8.35" lengthAdjust="spacingAndGlyphs">30</text>
<path d="M1557.5 733.30 L1559.6 734.50 L1557.5 735.70 Z" fill="#222"/>
<text x="1560.00" y="737.90" font-size="8.3" fill="#222" stroke="#222" stroke-width="0.28" textLength="8.35" lengthAdjust="spacingAndGlyphs">20</text>
<path d="M1557.5 750.70 L1559.6 751.90 L1557.5 753.10 Z" fill="#222"/>
<text x="1560.00" y="751.40" font-size="8.3" fill="#222" stroke="#222" stroke-width="0.28" textLength="4.18" lengthAdjust="spacingAndGlyphs">0</text>
<line x1="2.90" y1="752.5" x2="2.90" y2="756" stroke="#222" stroke-width="1"/>
<text x="1.20" y="763.30" font-size="8.3" fill="#222" stroke="#222" stroke-width="0.12" textLength="45.83" lengthAdjust="spacingAndGlyphs">17 May 2021</text>
<line x1="56.32" y1="752.5" x2="56.32" y2="756" stroke="#222" stroke-width="1"/>
<line x1="109.74" y1="752.5" x2="109.74" y2="756" stroke="#222" stroke-width="1"/>
<text x="108.94" y="763.30" font-size="8.3" fill="#222" stroke="#222" stroke-width="0.12" textLength="48.03" lengthAdjust="spacingAndGlyphs">18 May 12:00</text>
<line x1="163.16" y1="752.5" x2="163.16" y2="756" stroke="#222" stroke-width="1"/>
<text x="162.36" y="763.30" font-size="8.3" fill="#222" stroke="#222" stroke-width="0.12" textLength="48.03" lengthAdjust="spacingAndGlyphs">19 May 04:00</text>
<line x1="216.58" y1="752.5" x2="216.58" y2="756" stroke="#222" stroke-width="1"/>
<text x="215.78" y="763.30" font-size="8.3" fill="#222" stroke="#222" stroke-width="0.12" textLength="48.03" lengthAdjust="spacingAndGlyphs">19 May 20:00</text>
<line x1="270.00" y1="752.5" x2="270.00" y2="756" stroke="#222" stroke-width="1"/>
<text x="269.20" y="763.30" font-size="8.3" fill="#222" stroke="#222" stroke-width="0.12" textLength="48.03" lengthAdjust="spacingAndGlyphs">20 May 12:00</text>
<line x1="323.42" y1="752.5" x2="323.42" y2="756" stroke="#222" stroke-width="1"/>
<text x="322.62" y="763.30" font-size="8.3" fill="#222" stroke="#222" stroke-width="0.12" textLength="48.03" lengthAdjust="spacingAndGlyphs">21 May 04:00</text>
<line x1="376.84" y1="752.5" x2="376.84" y2="756" stroke="#222" stroke-width="1"/>
<text x="376.04" y="763.30" font-size="8.3" fill="#222" stroke="#222" stroke-width="0.12" textLength="48.03" lengthAdjust="spacingAndGlyphs">21 May 20:00</text>
<line x1="430.26" y1="752.5" x2="430.26" y2="756" stroke="#222" stroke-width="1"/>
<text x="429.46" y="763.30" font-size="8.3" fill="#222" stroke="#222" stroke-width="0.12" textLength="48.03" lengthAdjust="spacingAndGlyphs">22 May 12:00</text>
<line x1="483.68" y1="752.5" x2="483.68" y2="756" stroke="#222" stroke-width="1"/>
<text x="482.88" y="763.30" font-size="8.3" fill="#222" stroke="#222" stroke-width="0.12" textLength="48.03" lengthAdjust="spacingAndGlyphs">23 May 04:00</text>
<line x1="537.10" y1="752.5" x2="537.10" y2="756" stroke="#222" stroke-width="1"/>
<text x="536.30" y="763.30" font-size="8.3" fill="#222" stroke="#222" stroke-width="0.12" textLength="48.03" lengthAdjust="spacingAndGlyphs">23 May 20:00</text>
<line x1="590.52" y1="752.5" x2="590.52" y2="756" stroke="#222" stroke-width="1"/>
<text x="589.72" y="763.30" font-size="8.3" fill="#222" stroke="#222" stroke-width="0.12" textLength="48.03" lengthAdjust="spacingAndGlyphs">24 May 12:00</text>
<line x1="643.94" y1="752.5" x2="643.94" y2="756" stroke="#222" stroke-width="1"/>
<text x="643.14" y="763.30" font-size="8.3" fill="#222" stroke="#222" stroke-width="0.12" textLength="48.03" lengthAdjust="spacingAndGlyphs">25 May 04:00</text>
<line x1="697.36" y1="752.5" x2="697.36" y2="756" stroke="#222" stroke-width="1"/>
<text x="696.56" y="763.30" font-size="8.3" fill="#222" stroke="#222" stroke-width="0.12" textLength="48.03" lengthAdjust="spacingAndGlyphs">25 May 20:00</text>
<line x1="750.78" y1="752.5" x2="750.78" y2="756" stroke="#222" stroke-width="1"/>
<text x="749.98" y="763.30" font-size="8.3" fill="#222" stroke="#222" stroke-width="0.12" textLength="48.03" lengthAdjust="spacingAndGlyphs">26 May 12:00</text>
<line x1="804.20" y1="752.5" x2="804.20" y2="756" stroke="#222" stroke-width="1"/>
<text x="803.40" y="763.30" font-size="8.3" fill="#222" stroke="#222" stroke-width="0.12" textLength="48.03" lengthAdjust="spacingAndGlyphs">27 May 04:00</text>
<line x1="857.62" y1="752.5" x2="857.62" y2="756" stroke="#222" stroke-width="1"/>
<text x="856.82" y="763.30" font-size="8.3" fill="#222" stroke="#222" stroke-width="0.12" textLength="48.03" lengthAdjust="spacingAndGlyphs">27 May 20:00</text>
<line x1="911.04" y1="752.5" x2="911.04" y2="756" stroke="#222" stroke-width="1"/>
<text x="910.24" y="763.30" font-size="8.3" fill="#222" stroke="#222" stroke-width="0.12" textLength="48.03" lengthAdjust="spacingAndGlyphs">28 May 12:00</text>
<line x1="964.46" y1="752.5" x2="964.46" y2="756" stroke="#222" stroke-width="1"/>
<text x="963.66" y="763.30" font-size="8.3" fill="#222" stroke="#222" stroke-width="0.12" textLength="48.03" lengthAdjust="spacingAndGlyphs">29 May 04:00</text>
<line x1="1017.88" y1="752.5" x2="1017.88" y2="756" stroke="#222" stroke-width="1"/>
<text x="1017.08" y="763.30" font-size="8.3" fill="#222" stroke="#222" stroke-width="0.12" textLength="48.03" lengthAdjust="spacingAndGlyphs">29 May 20:00</text>
<line x1="1071.30" y1="752.5" x2="1071.30" y2="756" stroke="#222" stroke-width="1"/>
<text x="1070.50" y="763.30" font-size="8.3" fill="#222" stroke="#222" stroke-width="0.12" textLength="48.03" lengthAdjust="spacingAndGlyphs">30 May 12:00</text>
<line x1="1124.72" y1="752.5" x2="1124.72" y2="756" stroke="#222" stroke-width="1"/>
<text x="1123.92" y="763.30" font-size="8.3" fill="#222" stroke="#222" stroke-width="0.12" textLength="48.03" lengthAdjust="spacingAndGlyphs">31 May 04:00</text>
<path d="M4.7 8 L10.6 8 L7.65 11.2 Z" fill="#111"/>
<text x="16.30" y="11.90" font-size="8.3" fill="#111" stroke="#111" stroke-width="0.28" textLength="38.41" lengthAdjust="spacingAndGlyphs">#Bitcoin,H4</text>
<text x="61.30" y="11.90" font-size="8.3" fill="#111" stroke="#111" stroke-width="0.28" textLength="131.57" lengthAdjust="spacingAndGlyphs">34481.82 34913.32 34189.01 34741.82</text>
<text x="6.60" y="583.30" font-size="8.3" fill="#111" stroke="#111" stroke-width="0.28" textLength="46.77" lengthAdjust="spacingAndGlyphs">AO -1651.440</text>
<text x="5.50" y="674.30" font-size="8.3" fill="#111" stroke="#111" stroke-width="0.28" textLength="55.11" lengthAdjust="spacingAndGlyphs">RSI(21) 43.5678</text>
<text x="217.00" y="123.40" font-size="17.3" fill="#000" textLength="158.67" lengthAdjust="spacingAndGlyphs">2x Bearish Engulfing</text>
<text x="141.00" y="559.80" font-size="16.8" fill="#000" textLength="124.21" lengthAdjust="spacingAndGlyphs">Bullish Engulfing</text>
<path d="M203 519.5 L207 523.5 L205 523.5 L205 529 L201 529 L201 523.5 L199 523.5 Z" fill="#fff" stroke="#000" stroke-width="0.9"/>
<path d="M1163 3 L1169 3 L1166 6.5 Z" fill="#999"/>
<rect x="0" y="724.8" width="180" height="45.2" fill="#585858" fill-opacity="0.76"/>
<path d="M21.42 732.23 L21.86 728.52 L25.94 728.52 L26.38 732.23 L28.44 732.78 L30.68 729.79 L34.20 731.83 L32.73 735.26 L34.24 736.77 L37.67 735.30 L39.71 738.82 L36.72 741.06 L37.27 743.12 L40.98 743.56 L40.98 747.64 L37.27 748.08 L36.72 750.14 L39.71 752.38 L37.67 755.90 L34.24 754.43 L32.73 755.94 L34.20 759.37 L30.68 761.41 L28.44 758.42 L26.38 758.97 L25.94 762.68 L21.86 762.68 L21.42 758.97 L19.36 758.42 L17.12 761.41 L13.60 759.37 L15.07 755.94 L13.56 754.43 L10.13 755.90 L8.09 752.38 L11.08 750.14 L10.53 748.08 L6.82 747.64 L6.82 743.56 L10.53 743.12 L11.08 741.06 L8.09 738.82 L10.13 735.30 L13.56 736.77 L15.07 735.26 L13.60 731.83 L17.12 729.79 L19.36 732.78 Z" fill="#fff"/>
<circle cx="23.9" cy="737.7" r="3.0" fill="#808080"/>
<path d="M15.8 740.3 L20.4 743.8 L20.4 764 M32.0 740.3 L27.4 743.8 L27.4 764" stroke="#7f7f7f" stroke-width="3.6" fill="none"/>
<text x="48.30" y="753.20" font-size="29.5" fill="#fff" textLength="124.80" lengthAdjust="spacingAndGlyphs">instaforex</text>
<text x="48.60" y="764.30" font-size="10.2" fill="#fff" textLength="100.80" lengthAdjust="spacingAndGlyphs">Instant Forex Trading</text>
</svg>
</body></html>
